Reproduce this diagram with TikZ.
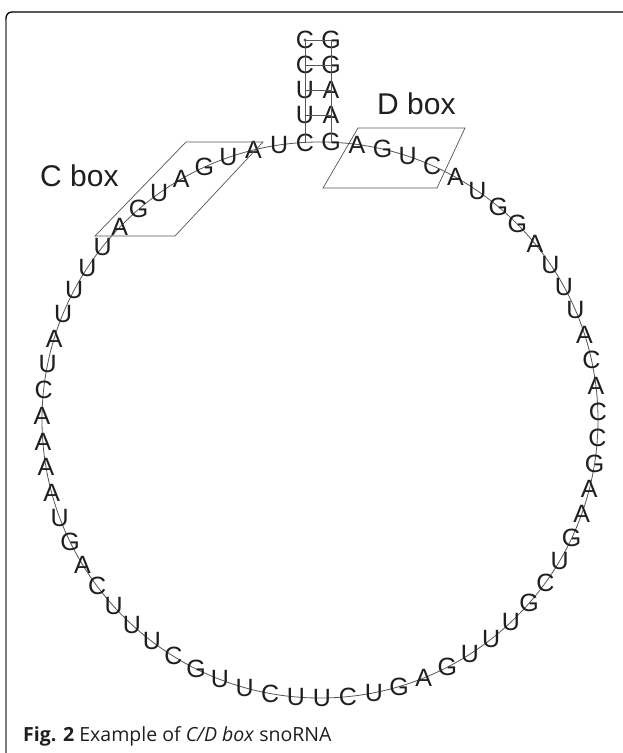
\documentclass[tikz,border=0pt]{standalone}
\usepackage{fontspec}
\setmainfont{Liberation Sans}
\newfontfamily\capfont{Open Sans}
\usetikzlibrary{calc,positioning}
\definecolor{cline}{RGB}{85,85,85}
\definecolor{cframe}{RGB}{125,125,125}

\begin{document}
\begin{tikzpicture}[x=1pt,y=1pt,
  nt/.style={inner sep=0pt,font=\fontsize{25}{25}\selectfont,text=black!88},
  boxlabel/.style={inner sep=0pt,anchor=base west,font=\fontsize{30}{30}\selectfont,text=black!88},
  boxline/.style={draw=cline,line width=0.7pt},
  strand/.style={draw=cline,line width=0.8pt}]
  \useasboundingbox (0,0) rectangle (623,753);
  \coordinate (ctr) at (320,333);
  \draw[strand] (ctr) circle[radius=278];
  \foreach \b [count=\i] in {C,U,A,U,G,A,U,G,A,U,U,U,U,A,U,C,A,A,A,A,U,G,A,C,U,U,U,C,G,U,U,C,U,U,C,U,G,A,G,U,U,U,G,C,U,G,A,A,G,C,C,A,C,A,U,U,U,A,G,G,U,A,C,U,G,A,G}
    \node[nt] (n\i) at ($(ctr)+({93.1+(\i-1)*5.3731}:278)$) {\b};
  \foreach \l/\r/\y [count=\i] in {C/G/713,C/G/688,U/A/663,U/A/638} {
    \coordinate (row\i) at (0,\y);
    \node[nt] (l\i) at (n1 |- row\i) {\l};
    \node[nt] (r\i) at (n67 |- row\i) {\r};
    \draw[strand] (l\i.center) -- (r\i.center);
  }
  \draw[strand] (l1.center) -- (n1.center);
  \draw[strand] (r1.center) -- (n67.center);
  \fill[cline] (l1.center) circle[radius=1.6];
  \draw[boxline] (95,517) -- (175,517) -- (263,611) -- (186,611) -- cycle;
  \draw[boxline] (323,565) -- (437,565) -- (465,625) -- (358,625) -- cycle;
  \node[boxlabel] (cbox) at (40,566) {C box};
  \node[boxlabel] (dbox) at (377,638) {D box};
  \draw[black,line width=1.3pt,rounded corners=6pt] (6,728) -- (6,741) -- (623,741);
  \draw[cframe,line width=1.6pt] (6,0) -- (6,733);
  \node[anchor=base west,inner sep=0pt,font=\capfont\fontsize{19.5}{20}\selectfont,text=black!88] (cap) at (23,11)
    {\textbf{Fig. 2} Example of \textit{C/D box} snoRNA};
\end{tikzpicture}
\end{document}
